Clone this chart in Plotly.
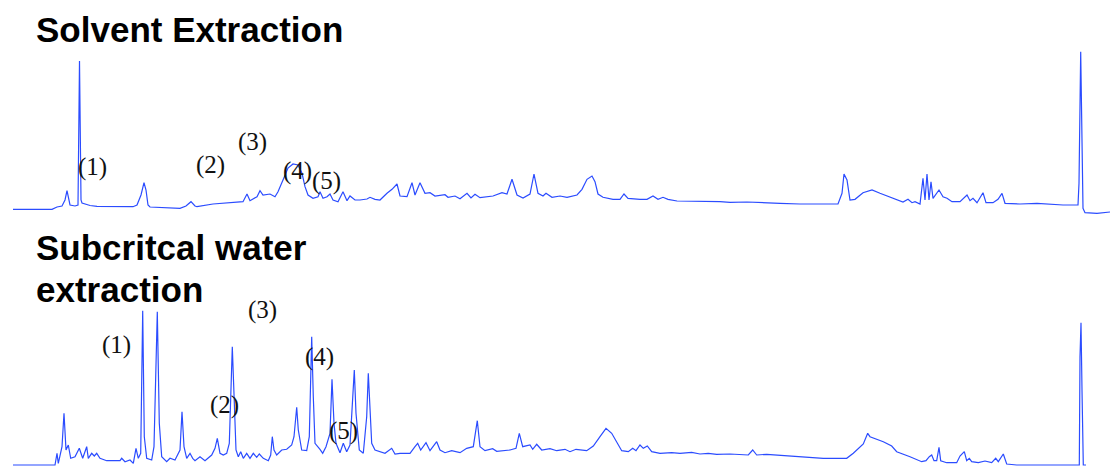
import plotly.graph_objects as go

# ---- Solvent extraction chromatogram (retention position, detector response) ----
solvent_time = [13, 52, 57, 62, 65, 67, 70, 75, 78, 79.5, 81, 82, 90, 97, 133, 137, 141, 144, 146, 148,
                150, 165, 180, 186, 191, 195, 197, 213, 227, 243, 247, 250, 257, 260, 263, 270, 275, 278, 283, 288,
                293, 298, 302, 305, 308, 313, 318, 320, 323, 327, 330, 333, 338, 343, 347, 350, 355, 360, 367, 370,
                375, 380, 387, 392, 397, 400, 407, 412, 415, 420, 425, 430, 435, 445, 448, 455, 460, 467, 471, 475,
                480, 493, 502, 507, 512, 517, 523, 530, 534, 538, 543, 546, 552, 560, 567, 577, 582, 587, 592, 595,
                598, 603, 613, 620, 624, 628, 640, 647, 653, 658, 663, 668, 677, 693, 703, 720, 730, 747, 780, 800,
                838, 842, 844, 847, 850, 855, 863, 872, 880, 890, 903, 908, 912, 915, 920, 923, 925, 927, 929, 931,
                933, 939, 943, 947, 952, 960, 967, 970, 973, 977, 983, 986, 993, 998, 1002, 1005, 1020, 1037, 1063, 1078,
                1079, 1080.7, 1082, 1083, 1085, 1097, 1110]
solvent_signal = [0.7, 0.7, 3, 4, 10, 19.3, 5, 4, 5, 149, 10, 7, 4.5, 3.7, 3.3, 5, 15, 27.3, 20, 5,
                  3, 2, 1.7, 4, 8.3, 4, 3.3, 6, 7.3, 8.3, 16, 9.3, 13.3, 19.3, 15, 16, 13.3, 18.3, 30, 42,
                  46, 45, 36.7, 23.3, 15, 11.7, 13.3, 18.3, 11.7, 13.3, 16, 10, 8.3, 18.3, 9.3, 14, 10, 10, 11, 12.7,
                  10.7, 10, 16.7, 20.7, 26, 14, 13.3, 27.3, 15, 27.3, 16.7, 17.3, 14, 15.3, 12.7, 14, 11.3, 16.7, 12, 15.7,
                  12.3, 14, 17.3, 16, 30.7, 15, 12, 16, 36, 16.7, 14, 16.7, 12.7, 14, 12.7, 15, 20.7, 30.7, 34, 28.3,
                  16, 12.7, 10.7, 10.7, 16, 11.7, 10.7, 10.7, 14, 10.7, 12.7, 10.7, 9, 9, 8.3, 8.3, 7.7, 8, 6.7, 6,
                  6, 16.7, 36, 30, 10, 10.7, 17.3, 20, 16.7, 12.7, 8, 10.7, 7.3, 8.3, 6, 31.7, 10, 36, 10, 28.3,
                  11.7, 20, 13.3, 11.7, 8.3, 8.3, 15, 9.3, 11.7, 7.3, 17.3, 7.3, 7.3, 10.7, 16.7, 6.7, 6, 6.7, 5, 5,
                  26.7, 158.3, 57, 1.7, -2.7, -3.3, -2]

# ---- Subcritical water extraction chromatogram ----
scwe_time = [13, 55, 57, 58.3, 62, 64, 66, 68.3, 70.7, 75, 79.3, 82.7, 86.7, 88.3, 91.7, 94.3, 96.7, 100, 106.7, 120,
             121.7, 125, 130, 133.3, 136, 138.3, 140.7, 142.7, 144.3, 146.7, 151.7, 154, 157.3, 159.3, 161.7, 166.7, 170, 175, 180, 182,
             184, 186.7, 190, 192.7, 195, 200, 205, 211.7, 215, 217.3, 220, 223.3, 226.7, 229.3, 232.3, 234, 236, 238.3, 240.7, 243.3,
             246.7, 250, 253.3, 256.7, 259.3, 263.3, 268.3, 270.7, 272.3, 274, 276.7, 281.7, 286.7, 291.7, 294, 296.7, 298.3, 301.7, 306.7, 309.3,
             311.7, 313.3, 315, 320, 322.7, 326, 330, 332, 334, 336, 340, 343.3, 346.7, 350, 352.7, 354.3, 356, 359.3, 363.3, 366.7,
             368.3, 371.7, 375, 380, 385, 391.7, 395, 400, 410, 415, 417.7, 420.7, 426, 430, 436.7, 440, 445, 451.7, 460, 466.7,
             473.3, 477.3, 480, 485, 492.7, 496.7, 510, 516, 519.3, 522.7, 530, 532.7, 536.7, 541.7, 550, 556.7, 565, 570, 576, 586.7,
             593.3, 600, 606, 611.7, 616.7, 621.7, 628.3, 632.7, 636, 640, 643.3, 647.3, 651.7, 660, 671.7, 680, 691.7, 700, 708.3, 716.7,
             730, 748.3, 752.7, 756.7, 766.7, 796.7, 823.3, 846.7, 853.3, 863.3, 867.7, 870, 883.3, 891.7, 896.7, 910, 921.7, 926, 929.3, 931.7,
             934, 936.7, 939, 940.7, 946.7, 956.7, 960, 964.3, 966.7, 969.3, 971.7, 978.3, 985, 991.7, 995.7, 998.3, 1003.3, 1006.7, 1016.7, 1063.3,
             1079.3, 1080, 1081, 1082, 1082.7, 1083.3, 1086]
scwe_signal = [0, 0, 11.7, 1.7, 18.3, 51.7, 15, 20, 6.7, 8.3, 16.7, 6.7, 18.3, 6.7, 11.7, 9, 11.7, 6.7, 4.3, 4.3,
               6.7, 3.3, 5, 1.7, 16.7, 6.7, 11.7, 154.3, 28.3, 6.7, 5, 18.3, 153.3, 41.7, 8.3, 3.3, 6.7, 5, 15, 53.3,
               18.3, 6.7, 11.7, 6.7, 4.3, 8.3, 4.3, 10, 16.7, 26.7, 11.7, 10, 11.7, 21.7, 118.3, 75, 15, 8.3, 13.3, 6.7,
               11.7, 6.7, 11.7, 7.7, 11, 6.7, 4.3, 10, 28.3, 15, 10, 15, 15.7, 20, 28.3, 57.7, 35, 15, 14.3, 28.3,
               128.3, 68.3, 21.7, 15.7, 11.7, 18.3, 31.7, 85.7, 41.7, 21.7, 12.3, 21.7, 13.3, 20, 68.3, 95, 51.7, 15, 11.7, 48.3,
               91.7, 21.7, 15, 13.3, 11.7, 16.7, 11, 11.7, 11.7, 18.3, 21.7, 15, 22.3, 14.3, 23.3, 15, 12.3, 14.3, 12.3, 16.7,
               18.3, 44.3, 18.3, 14.3, 16.3, 13.7, 15, 16.7, 31.7, 18.3, 20, 15.7, 20.7, 15, 16.3, 14.3, 15.7, 13.3, 15.7, 14.3,
               19, 28.3, 36.7, 31.7, 23.3, 14.3, 13.3, 16.7, 14.3, 20, 16.7, 19, 13.3, 11.7, 12.3, 11.7, 12.7, 11, 11.7, 10.7,
               11, 10, 15, 10, 10.7, 8.3, 6.7, 6.7, 11.7, 21, 31.7, 28.3, 23.3, 19, 13.3, 8.3, 3.3, 4.3, 8.3, 10,
               4.3, 4.3, 17.7, 4.3, 2.3, 2.3, 9, 13.3, 4.3, 6.7, 3.3, 2.3, 4, 2.3, 6.7, 3.3, 11, 1, 0, 0,
               0, 108.3, 142.3, 75, 10, 0, 0]

# ---- Peak labels ----
peak_labels = ["(1)", "(2)", "(3)", "(4)", "(5)"]
solvent_label_time = [92, 210, 252, 297, 326]
solvent_label_signal = [43, 45, 68, 39, 29]
scwe_label_time = [116, 224, 262, 319, 343]
scwe_label_signal = [120, 60, 155, 108, 34]

LINE = "#2b4cff"

fig = go.Figure()
fig.add_trace(go.Scatter(x=solvent_time, y=solvent_signal, mode="lines",
                         line=dict(color=LINE, width=1.2), xaxis="x", yaxis="y",
                         showlegend=False, hoverinfo="skip"))
fig.add_trace(go.Scatter(x=scwe_time, y=scwe_signal, mode="lines",
                         line=dict(color=LINE, width=1.2), xaxis="x2", yaxis="y2",
                         showlegend=False, hoverinfo="skip"))

label_font = dict(family="Liberation Serif, Times New Roman, serif", size=25, color="#111")
annotations = []
for lab, t, s in zip(peak_labels, solvent_label_time, solvent_label_signal):
    annotations.append(dict(text=lab, x=t, y=s, xref="x", yref="y", showarrow=False,
                            xanchor="center", yanchor="middle", font=label_font))
for lab, t, s in zip(peak_labels, scwe_label_time, scwe_label_signal):
    annotations.append(dict(text=lab, x=t, y=s, xref="x2", yref="y2", showarrow=False,
                            xanchor="center", yanchor="middle", font=label_font))

title_font = dict(family="Liberation Sans, Arial, sans-serif", size=35, color="#000")
annotations.append(dict(text="<b>Solvent Extraction</b>", x=0.0305, y=0.936, xref="paper", yref="paper",
                        xanchor="left", yanchor="middle", showarrow=False, font=title_font))
annotations.append(dict(text="<b>Subcritcal water</b>", x=0.0305, y=0.468, xref="paper", yref="paper",
                        xanchor="left", yanchor="middle", showarrow=False, font=title_font))
annotations.append(dict(text="<b>extraction</b>", x=0.0305, y=0.378, xref="paper", yref="paper",
                        xanchor="left", yanchor="middle", showarrow=False, font=title_font))

hidden = dict(visible=False, showgrid=False, zeroline=False, fixedrange=True)
fig.update_layout(
    width=1110, height=466,
    margin=dict(l=0, r=0, t=0, b=0),
    paper_bgcolor="white", plot_bgcolor="white",
    xaxis=dict(domain=[0, 1], range=[0, 1110], anchor="y", **hidden),
    yaxis=dict(domain=[0.5279, 0.9034], range=[-10, 165], anchor="x", **hidden),
    xaxis2=dict(domain=[0, 1], range=[0, 1110], anchor="y2", **hidden),
    yaxis2=dict(domain=[0, 0.36], range=[-1, 166.76], anchor="x2", **hidden),
    annotations=annotations,
)

fig.write_html("out.html", config={"displayModeBar": False},
               post_script="document.body.style.margin='0';document.body.style.overflow='hidden';")
